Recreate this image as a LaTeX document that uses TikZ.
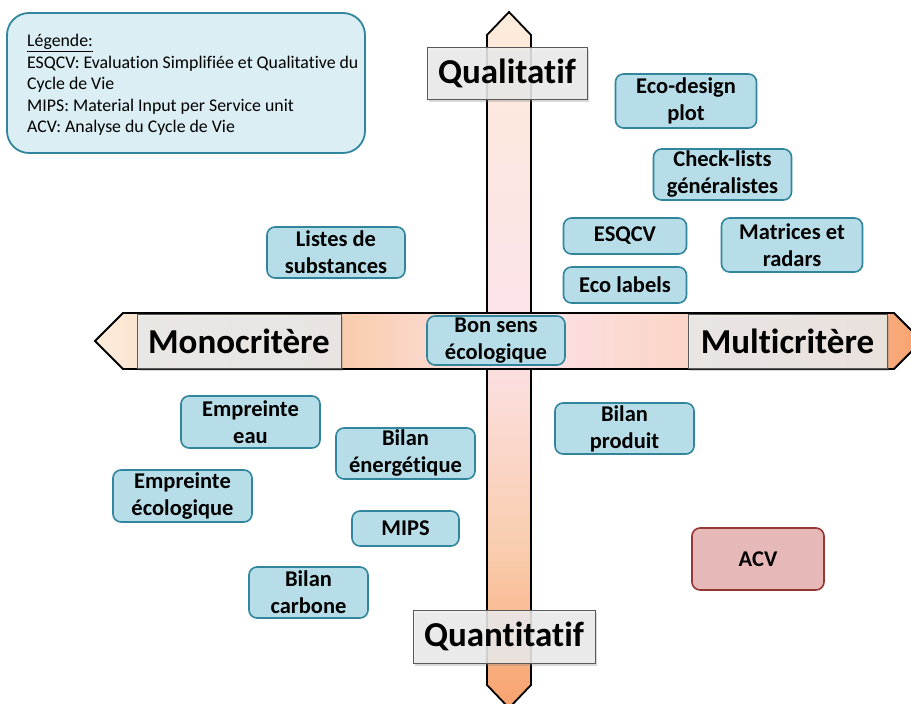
\documentclass[tikz,border=0pt]{standalone}
\usepackage{fontspec}
\setmainfont{Carlito}[Ligatures=NoCommon]
\usetikzlibrary{shadows}
\definecolor{boxfill}{HTML}{B7DEE8}
\definecolor{boxline}{HTML}{31859C}
\definecolor{legfill}{HTML}{DAEEF3}
\definecolor{acvfill}{HTML}{E6B9B8}
\definecolor{acvline}{HTML}{953735}
\definecolor{lblfill}{HTML}{EDEDED}
\definecolor{pA}{HTML}{FDEBDA}
\definecolor{pB}{HTML}{F9CCAC}
\definecolor{pC}{HTML}{FCE3EA}
\definecolor{pD}{HTML}{FBD3C2}
\definecolor{pE}{HTML}{F8A26D}
\pgfdeclarehorizontalshading{hshade}{100bp}{color(0bp)=(pA); color(25bp)=(pA); color(40bp)=(pB); color(50bp)=(pC); color(62bp)=(pD); color(75bp)=(pE); color(100bp)=(pE)}
\pgfdeclareverticalshading{vshade}{100bp}{color(0bp)=(pE); color(25bp)=(pE); color(36bp)=(pB); color(52bp)=(pC); color(75bp)=(pA); color(100bp)=(pA)}
\begin{document}
\begin{tikzpicture}[x=1pt,y=-1pt,line join=miter,
  bbox/.style={draw=boxline, fill=boxfill, line width=1.6pt, rounded corners=8pt, align=center, inner sep=0pt,
    font=\fontsize{22.5}{27}\selectfont\bfseries},
  rbox/.style={bbox, draw=acvline, fill=acvfill},
  axlbl/.style={draw=black!65, line width=0.8pt, fill=lblfill, fill opacity=0.85, text opacity=1, inner sep=0pt,
    font=\fontsize{35}{40}\selectfont\bfseries,
    drop shadow={shadow xshift=2pt, shadow yshift=-2.5pt, opacity=0.3}},
  legbox/.style={draw=boxline, fill=legfill, line width=1.8pt, rounded corners=22pt},
  legtext/.style={align=left, inner sep=0pt, anchor=north west, font=\fontsize{17.8}{21.5}\selectfont},
  arrowbody/.style={draw=black, line width=1.8pt}
]
\useasboundingbox (0,0) rectangle (911,704);

% vertical axis
\path[arrowbody, shading=vshade] (509,12) -- (531,35) -- (531,685) -- (509,708) -- (487,685) -- (487,35) -- cycle;
% horizontal axis
\path[arrowbody, shading=hshade] (95,341) -- (123,313) -- (894,313) -- (922,341) -- (894,369) -- (123,369) -- cycle;

% axis labels
\node[axlbl, minimum width=160, minimum height=52] (qual) at (507,73) {Qualitatif};
\node[axlbl, minimum width=182, minimum height=53] (quan) at (504,636.5) {Quantitatif};
\node[axlbl, minimum width=204, minimum height=54] (mono) at (239,341) {Monocritère};
\node[axlbl, minimum width=199, minimum height=54] (multi) at (787.5,341) {Multicritère};

% legend
\node[legbox, minimum width=358, minimum height=140] (leg) at (186,83) {};
\node[legtext] (legt) at (27,34)
  {\underline{Légende:}\\ESQCV: Evaluation Simplifiée et Qualitative du\\Cycle de Vie\\MIPS: Material Input per Service unit\\ACV: Analyse du Cycle de Vie};

% boxes
\node[bbox, minimum width=141, minimum height=54] (eco) at (686,101) {Eco-design\\plot};
\node[bbox, minimum width=138, minimum height=51] (check) at (722.5,174.5) {Check-lists\\généralistes};
\node[bbox, minimum width=123, minimum height=36] (esqcv) at (625,236) {ESQCV};
\node[bbox, minimum width=123, minimum height=36] (ecolab) at (625,285) {Eco labels};
\node[bbox, minimum width=141, minimum height=54] (matr) at (792,245) {Matrices et\\radars};
\node[bbox, minimum width=138, minimum height=51] (listes) at (336,252.5) {Listes de\\substances};
\node[bbox, minimum width=138, minimum height=49] (bonsens) at (496,340.5) {Bon sens\\écologique};
\node[bbox, minimum width=139, minimum height=52] (empeau) at (250.5,422) {Empreinte\\eau};
\node[bbox, minimum width=139, minimum height=51] (bilen) at (405.5,453.5) {Bilan\\énergétique};
\node[bbox, minimum width=139, minimum height=52] (empeco) at (182.5,496) {Empreinte\\écologique};
\node[bbox, minimum width=107, minimum height=35] (mips) at (405.5,528.5) {MIPS};
\node[bbox, minimum width=119, minimum height=51] (bilcarb) at (308.5,592.5) {Bilan\\carbone};
\node[bbox, minimum width=139, minimum height=51] (bilprod) at (624.5,428.5) {Bilan\\produit};
\node[rbox, minimum width=132, minimum height=62] (acv) at (758,559) {ACV};
\end{tikzpicture}
\end{document}
